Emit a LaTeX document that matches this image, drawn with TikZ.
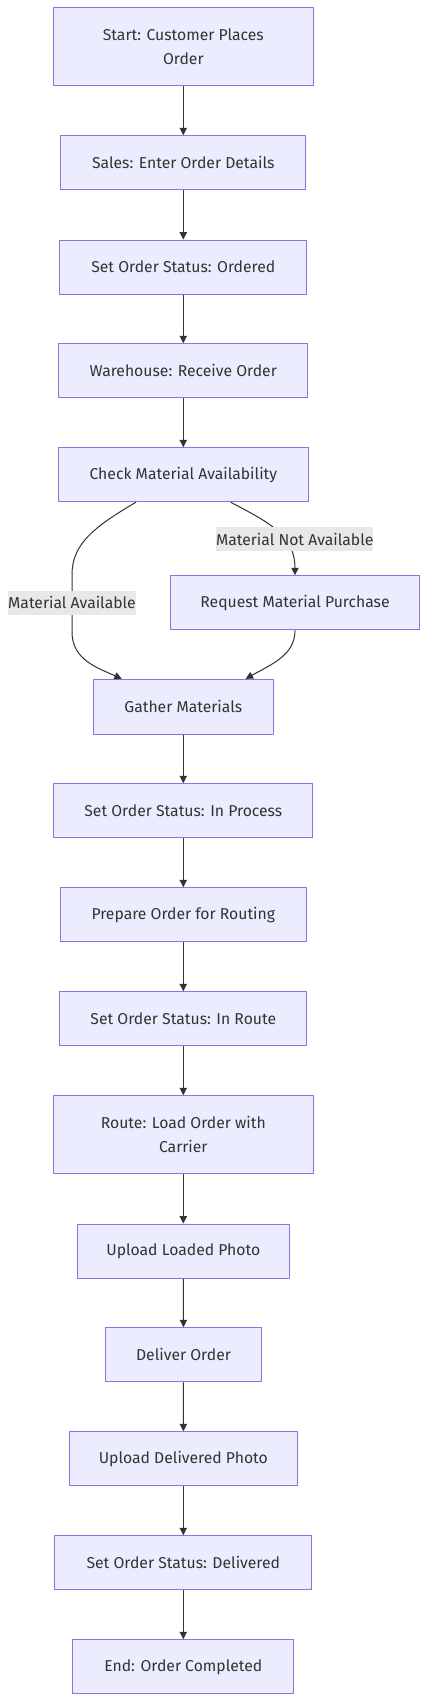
\documentclass[tikz,border=0pt]{standalone}
\usepackage{fontspec}
\setmainfont{Fira Sans}
\usetikzlibrary{arrows.meta,calc}
\definecolor{boxfill}{HTML}{ECECFF}
\definecolor{boxline}{HTML}{9370DB}
\definecolor{edgecol}{HTML}{333333}
\definecolor{txtcol}{HTML}{333333}
\definecolor{lblbg}{HTML}{E8E8E8}
\tikzset{
  box/.style 2 args={draw=boxline, fill=boxfill, line width=0.75pt, text=txtcol,
    minimum width=#1*0.75pt, minimum height=#2*0.75pt, inner sep=0pt,
    align=center, font=\fontsize{11.8}{18}\selectfont},
  edge/.style={draw=edgecol, line width=0.75pt, -{Triangle[length=5.5pt,width=5.5pt]}},
  lbl/.style 2 args={fill=lblbg, text=txtcol, minimum width=#1*0.75pt, minimum height=#2*0.75pt,
    inner sep=0pt, font=\fontsize{11.8}{13}\selectfont},
}
\begin{document}
\begin{tikzpicture}[x=0.75pt,y=-0.75pt]
\useasboundingbox[fill=white] (0,0) rectangle (428,1702);
\node[box={260}{78}] (start) at (183.3,46.7) {Start: Customer Places\\Order};
\node[box={245.3}{54.3}] (sales) at (183.3,162.8) {Sales: Enter Order Details};
\node[box={246.7}{54}] (ordered) at (183.3,267) {Set Order Status: Ordered};
\node[box={249.3}{54.3}] (wh) at (183.3,370.8) {Warehouse: Receive Order};
\node[box={250}{54}] (check) at (183.3,474.7) {Check Material Availability};
\node[box={249.3}{54.3}] (req) at (295,602.8) {Request Material Purchase};
\node[box={180}{54.7}] (gather) at (183.3,706.7) {Gather Materials};
\node[box={258.7}{54.3}] (inproc) at (183.3,810.8) {Set Order Status: In Process};
\node[box={245.7}{54}] (prep) at (183.3,914.7) {Prepare Order for Routing};
\node[box={247.3}{54}] (inroute) at (183.3,1018.7) {Set Order Status: In Route};
\node[box={260}{78.3}] (route) at (183.3,1134.8) {Route: Load Order with\\Carrier};
\node[box={212}{54}] (uplo) at (183.3,1251) {Upload Loaded Photo};
\node[box={156.4}{54.3}] (deliv) at (183.5,1354.8) {Deliver Order};
\node[box={228}{54}] (upde) at (183.3,1458.7) {Upload Delivered Photo};
\node[box={256.7}{54.3}] (delivd) at (183.3,1562.8) {Set Order Status: Delivered};
\node[box={220.7}{54.3}] (endn) at (183.3,1666.8) {End: Order Completed};

\draw[edge] (start) -- (sales);
\draw[edge] (sales) -- (ordered);
\draw[edge] (ordered) -- (wh);
\draw[edge] (wh) -- (check);
\draw[edge] ($(check.south)+(-47.3,0)$) .. controls (92,528) and (72,545) .. (72,575)
  -- (72,632) .. controls (72,660) and (98,668) .. ($(gather.north)+(-61.6,0)$);
\draw[edge] ($(check.south)+(47.4,0)$) .. controls (268,522) and (295,535) .. (req.north);
\draw[edge] (req.south) .. controls (295,655) and (272,664) .. ($(gather.north)+(62.4,0)$);
\draw[edge] (gather) -- (inproc);
\draw[edge] (inproc) -- (prep);
\draw[edge] (prep) -- (inroute);
\draw[edge] (inroute) -- (route);
\draw[edge] (route) -- (uplo);
\draw[edge] (uplo) -- (deliv);
\draw[edge] (deliv) -- (upde);
\draw[edge] (upde) -- (delivd);
\draw[edge] (delivd) -- (endn);

\node[lbl={156.7}{23.4}] (lnot) at (294.7,539) {Material Not Available};
\node[lbl={128}{23.7}] (lav) at (72,602.8) {Material Available};
\end{tikzpicture}
\end{document}
